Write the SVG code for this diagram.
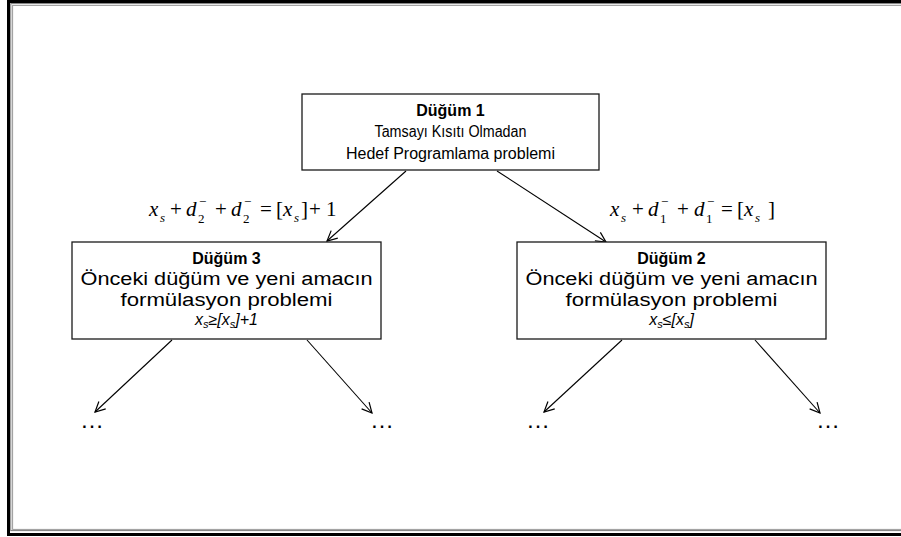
<svg xmlns="http://www.w3.org/2000/svg" width="901" height="537" viewBox="0 0 901 537">
  <style>
    .box { fill: #ffffff; stroke: #1a1a1a; stroke-width: 1.3; }
    .t { font-family: "Liberation Sans", Arial, sans-serif; font-size: 16px; fill: #000; text-anchor: middle; }
    .w { font-size: 18px; }
    .b { font-weight: bold; }
    .it { font-style: italic; }
    .eq { font-family: "Liberation Serif", "Times New Roman", serif; font-size: 21px; fill: #000; }
    .eqs { font-size: 13px; }
    .dots { font-family: "Liberation Sans", Arial, sans-serif; font-size: 24px; fill: #000; text-anchor: middle; }
    .edge { stroke: #000; stroke-width: 1.1; fill: none; marker-end: url(#open); }
  </style>
  <defs>
    <marker id="open" viewBox="0 0 12 12" refX="11" refY="6" markerWidth="12" markerHeight="12" markerUnits="userSpaceOnUse" orient="auto">
      <path d="M1,1 L11,6 L1,11" fill="none" stroke="#000" stroke-width="1.2"/>
    </marker>
  </defs>

  <rect width="901" height="537" fill="#ffffff"/>

  <!-- page frame: thick black line with thin double inner rule -->
  <g id="frame">
    <rect x="8.5" y="1.5" width="1000" height="533" fill="none" stroke="#000" stroke-width="3"/>
    <rect x="10.8" y="3.6" width="1000" height="527" fill="none" stroke="#7a7a7a" stroke-width="1"/>
    <rect x="12.6" y="5.4" width="1000" height="524" fill="none" stroke="#9a9a9a" stroke-width="1"/>
  </g>

  <!-- connectors -->
  <g id="connectors">
    <line class="edge" x1="406" y1="171" x2="327" y2="241"/>
    <line class="edge" x1="497" y1="171" x2="606" y2="242"/>
    <line class="edge" x1="172" y1="340" x2="95" y2="412"/>
    <line class="edge" x1="307" y1="340" x2="372" y2="413"/>
    <line class="edge" x1="622" y1="340" x2="544" y2="412"/>
    <line class="edge" x1="755" y1="340" x2="820" y2="413"/>
  </g>

  <!-- branch constraints -->
  <g id="label-left">
    <text class="eq">
      <tspan class="it" x="149" y="216">x</tspan><tspan class="it eqs" x="160" y="222">s</tspan>
      <tspan x="170" y="216">+</tspan>
      <tspan class="it" x="186" y="216">d</tspan><tspan class="eqs" x="199" y="206">−</tspan><tspan class="eqs" x="198" y="223">2</tspan>
      <tspan x="215" y="216">+</tspan>
      <tspan class="it" x="231" y="216">d</tspan><tspan class="eqs" x="244" y="206">−</tspan><tspan class="eqs" x="243" y="223">2</tspan>
      <tspan x="260" y="216">=</tspan>
      <tspan x="276" y="216">[</tspan><tspan class="it" x="283" y="216">x</tspan><tspan class="it eqs" x="294" y="222">s</tspan><tspan x="301" y="216">]</tspan>
      <tspan x="309" y="216">+</tspan><tspan x="326" y="216">1</tspan>
    </text>
  </g>
  <g id="label-right">
    <text class="eq">
      <tspan class="it" x="610" y="216">x</tspan><tspan class="it eqs" x="621" y="222">s</tspan>
      <tspan x="632" y="216">+</tspan>
      <tspan class="it" x="648" y="216">d</tspan><tspan class="eqs" x="661" y="206">−</tspan><tspan class="eqs" x="660" y="223">1</tspan>
      <tspan x="677" y="216">+</tspan>
      <tspan class="it" x="694" y="216">d</tspan><tspan class="eqs" x="707" y="206">−</tspan><tspan class="eqs" x="706" y="223">1</tspan>
      <tspan x="721" y="216">=</tspan>
      <tspan x="737" y="216">[</tspan><tspan class="it" x="744" y="216">x</tspan><tspan class="it eqs" x="755" y="222">s</tspan><tspan x="768" y="216">]</tspan>
    </text>
  </g>

  <!-- node 1 -->
  <g id="node1">
    <rect class="box" x="302" y="94" width="297" height="76"/>
    <text class="t b" x="450.5" y="116">Düğüm 1</text>
    <text class="t" x="450.5" y="137" textLength="152" lengthAdjust="spacingAndGlyphs">Tamsayı Kısıtı Olmadan</text>
    <text class="t" x="450.5" y="159">Hedef Programlama problemi</text>
  </g>

  <!-- node 3 -->
  <g id="node3">
    <rect class="box" x="72" y="242" width="309" height="97"/>
    <text class="t b" x="226.5" y="264">Düğüm 3</text>
    <text class="t w" x="226.5" y="285" textLength="292" lengthAdjust="spacingAndGlyphs">Önceki düğüm ve yeni amacın</text>
    <text class="t w" x="226.5" y="306" textLength="212" lengthAdjust="spacingAndGlyphs">formülasyon problemi</text>
    <text class="t it" x="226.5" y="325">x<tspan font-size="11" dy="3">s</tspan><tspan dy="-3">≥[x</tspan><tspan font-size="11" dy="3">s</tspan><tspan dy="-3">]+1</tspan></text>
  </g>

  <!-- node 2 -->
  <g id="node2">
    <rect class="box" x="517" y="242" width="309" height="97"/>
    <text class="t b" x="671.5" y="264">Düğüm 2</text>
    <text class="t w" x="671.5" y="285" textLength="292" lengthAdjust="spacingAndGlyphs">Önceki düğüm ve yeni amacın</text>
    <text class="t w" x="671.5" y="306" textLength="212" lengthAdjust="spacingAndGlyphs">formülasyon problemi</text>
    <text class="t it" x="671.5" y="325">x<tspan font-size="11" dy="3">s</tspan><tspan dy="-3">≤[x</tspan><tspan font-size="11" dy="3">s</tspan><tspan dy="-3">]</tspan></text>
  </g>

  <!-- continuation marks -->
  <g id="more">
    <text class="dots" x="92" y="428">…</text>
    <text class="dots" x="382" y="428">…</text>
    <text class="dots" x="538" y="428">…</text>
    <text class="dots" x="828" y="428">…</text>
  </g>
</svg>
